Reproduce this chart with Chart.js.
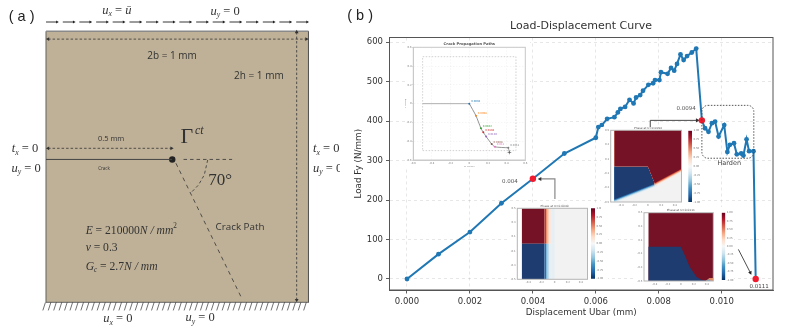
<!DOCTYPE html>
<html>
<head>
<meta charset="utf-8">
<title>Load-Displacement Curve</title>
<script src="https://cdn.jsdelivr.net/npm/chart.js@4"></script>
<style>
html, body { margin: 0; padding: 0; background: #fff; }
body { position: relative; width: 789px; height: 334px; overflow: hidden; }
canvas { position: absolute; }
</style>
</head>
<body>
<canvas id="schemeChart" width="340" height="334" style="left:0;top:0"></canvas>
<canvas id="loadChart" width="449" height="334" style="left:340px;top:0"></canvas>
<canvas id="pathChart" width="125" height="125" style="left:405px;top:42px"></canvas>
<canvas id="heatA" width="82" height="85" style="left:508px;top:203px"></canvas>
<canvas id="barA" width="18" height="85" style="left:590px;top:203px"></canvas>
<canvas id="heatB" width="83" height="84" style="left:601px;top:127px"></canvas>
<canvas id="barB" width="17" height="84" style="left:684px;top:127px"></canvas>
<canvas id="heatC" width="82" height="82" style="left:634px;top:207px"></canvas>
<canvas id="barC" width="18" height="82" style="left:716px;top:207px"></canvas>
<script>
// load-displacement curve
var dispUbar = [0, 0.001, 0.002, 0.003, 0.004, 0.005, 0.006, 0.00608, 0.00619, 0.00636, 0.00659, 0.0067, 0.00678,
    0.00693, 0.00707, 0.0072, 0.00728, 0.00741, 0.0075, 0.00767, 0.00782, 0.00788, 0.00802, 0.00807, 0.00828,
    0.00839, 0.00849, 0.00858, 0.00869, 0.00879, 0.0089, 0.00905, 0.00919, 0.00937, 0.00947, 0.00958, 0.00969,
    0.00979, 0.0099, 0.01008, 0.01018, 0.01026, 0.01039, 0.01048, 0.01062, 0.01069, 0.01079, 0.01087, 0.01101, 0.01108];
var loadFy = [0, 63, 119, 192, 254, 318, 358, 385, 390, 406, 410, 422, 431,
    436, 454, 445, 460, 466, 477, 492, 496, 504, 504, 524, 520,
    535, 528, 545, 569, 555, 565, 574, 584, 402, 382, 373, 395,
    399, 361, 390, 322, 340, 344, 316, 318, 313, 354, 324, 324, 0];
var markX = [0.004, 0.00937, 0.01108];
var markY = [254, 402, 0];

// crack path inset
var tipX = [0, 0.071, 0.125, 0.15, 0.18, 0.24, 0.275, 0.418];
var tipY = [0, -0.128, -0.263, -0.305, -0.35, -0.43, -0.46, -0.47];
var tipLabels = ['0.0094', '0.0098', '0.0102', '0.0104', '0.0106', '0.0108', '0.011', '0.0111'];
var tipColors = ['#1f77b4', '#ff7f0e', '#2ca02c', '#d62728', '#9467bd', '#8c564b', '#e377c2', '#7f7f7f'];

// phase field contours, normalised sample coordinates
var crackB = [[-0.5, -0.5], [0.1, -0.235], [0.5, -0.035]];
var contourC = [[-0.5, 0], [0, 0], [0.065, -0.129], [0.14, -0.3], [0.244, -0.44], [0.32, -0.485], [0.45, -0.51], [-0.5, -0.51]];
var bandX = [-0.5, -0.154, -0.13, -0.105, -0.08, -0.05];
var redRamp = ['#751226', '#c23b32', '#ee8f6b', '#fbd0b8', '#f8e8e0'];
var blueRamp = ['#1f3c70', '#2a6fb0', '#7cb8d8', '#c0dcec', '#e6eff4'];
var rampD = [0.05, 0.036, 0.024, 0.012, 0];
var rdBu = ['#053061', '#2166ac', '#4393c3', '#92c5de', '#d1e5f0', '#f7f7f7', '#fddbc7', '#f4a582', '#d6604d', '#b2182b', '#67001f'];

var inkColor = '#333';
var fieldColor = '#f2f2f3';
var sand = '#bfb197';

function zip(xs, ys) {
    return xs.map(function (x, i) { return { x: x, y: ys[i] }; });
}
function pairs(list) {
    return list.map(function (p) { return { x: p[0], y: p[1] }; });
}
function line(list, o) {
    o = o || {};
    return {
        data: pairs(list), showLine: true, fill: false, tension: 0, clip: false,
        borderColor: o.color || inkColor, borderWidth: o.w || 0.8, borderDash: o.dash || [],
        pointRadius: 0, pointStyle: false
    };
}
// polyline with a triangle head on the last point, and on the first if both is set
function arrow(list, o) {
    o = o || {};
    var d = line(list, o);
    var n = list.length;
    var kx = o.kx || 1, ky = o.ky || 1;
    var dirs = list.map(function () { return 0; });
    var a = list[n - 2], b = list[n - 1];
    var r = Math.atan2((b[0] - a[0]) * kx, (b[1] - a[1]) * ky) * 180 / Math.PI;
    dirs[n - 1] = r;
    if (o.both) {
        dirs[0] = r + 180;
    }
    var size = o.head || 2;
    d.pointStyle = 'triangle';
    d.pointRadius = list.map(function (p, i) { return (i == n - 1 || (o.both && i == 0)) ? size : 0; });
    d.pointRotation = dirs;
    d.pointBackgroundColor = o.headColor || o.color || inkColor;
    d.pointBorderWidth = 0;
    return d;
}

function drawRuns(ctx, e, px, py) {
    var fam = e.fam || 'Liberation Serif';
    var runs = typeof e.t == 'string' ? [[e.t]] : e.t;
    function runFont(r) {
        var shape = (e.it && r[2] != 'up' ? 'italic ' : '') + (e.weight ? e.weight + ' ' : '');
        return shape + (r[1] ? e.size * 0.62 : e.size) + 'px "' + fam + '"';
    }
    ctx.save();
    ctx.translate(px, py);
    if (e.rot) {
        ctx.rotate(e.rot * Math.PI / 180);
    }
    ctx.fillStyle = e.color || inkColor;
    ctx.textBaseline = 'middle';
    ctx.textAlign = 'left';
    var total = 0;
    runs.forEach(function (r) {
        ctx.font = runFont(r);
        total += ctx.measureText(r[0]).width;
    });
    var cx = e.align == 'left' ? 0 : -total / 2;
    runs.forEach(function (r) {
        ctx.font = runFont(r);
        var shift = r[1] == 'sub' ? e.size * 0.28 : (r[1] == 'sup' ? -e.size * 0.38 : 0);
        ctx.fillText(r[0], cx, shift);
        cx += ctx.measureText(r[0]).width;
    });
    ctx.restore();
}

// polygons, frame, rounded boxes and text, all placed through the chart scales
function marksPlugin(spec) {
    return {
        id: 'marks',
        beforeDraw: function (chart) {
            if (spec.bg) {
                chart.ctx.save();
                chart.ctx.fillStyle = spec.bg;
                chart.ctx.fillRect(0, 0, chart.width, chart.height);
                chart.ctx.restore();
            }
        },
        beforeDatasetsDraw: function (chart) {
            var ctx = chart.ctx, sx = chart.scales.x, sy = chart.scales.y;
            ctx.save();
            if (spec.clip) {
                var c = spec.clip;
                ctx.beginPath();
                ctx.rect(sx.getPixelForValue(c[0]), sy.getPixelForValue(c[3]),
                    sx.getPixelForValue(c[1]) - sx.getPixelForValue(c[0]), sy.getPixelForValue(c[2]) - sy.getPixelForValue(c[3]));
                ctx.clip();
            }
            (spec.polys || []).forEach(function (p) {
                ctx.beginPath();
                p.pts.forEach(function (q, i) {
                    var x = sx.getPixelForValue(q[0]), y = sy.getPixelForValue(q[1]);
                    if (i == 0) { ctx.moveTo(x, y); } else { ctx.lineTo(x, y); }
                });
                ctx.closePath();
                ctx.fillStyle = p.color;
                ctx.fill();
            });
            ctx.restore();
        },
        afterDatasetsDraw: function (chart) {
            var ctx = chart.ctx, sx = chart.scales.x, sy = chart.scales.y, a = chart.chartArea;
            if (spec.frame) {
                ctx.save();
                ctx.strokeStyle = spec.frame;
                ctx.lineWidth = spec.frameW || 1;
                ctx.strokeRect(a.left, a.top, a.right - a.left, a.bottom - a.top);
                ctx.restore();
            }
            (spec.boxes || []).forEach(function (b) {
                ctx.save();
                ctx.strokeStyle = b.color;
                ctx.lineWidth = b.w;
                ctx.setLineDash(b.dash);
                ctx.beginPath();
                ctx.roundRect(sx.getPixelForValue(b.x0), sy.getPixelForValue(b.y1),
                    sx.getPixelForValue(b.x1) - sx.getPixelForValue(b.x0), sy.getPixelForValue(b.y0) - sy.getPixelForValue(b.y1), b.r);
                ctx.stroke();
                ctx.restore();
            });
            (spec.texts || []).forEach(function (e) {
                drawRuns(ctx, e, sx.getPixelForValue(e.x), sy.getPixelForValue(e.y));
            });
        }
    };
}

function baseOptions(pad, xs, ys) {
    return {
        responsive: false, animation: false, events: [],
        layout: { padding: pad, autoPadding: false },
        plugins: { legend: { display: false }, tooltip: { enabled: false }, title: { display: false } },
        scales: { x: xs, y: ys }
    };
}

// ---------- panel (a), the specimen drawn in millimetres ----------
var topArrowX = [0, 0.064, 0.127, 0.191, 0.254, 0.318, 0.381, 0.445, 0.508, 0.572, 0.635, 0.699, 0.762, 0.826, 0.889, 0.953];
var schemeSets = [];
topArrowX.forEach(function (x) {
    schemeSets.push(arrow([[x, 1.032], [x + 0.042, 1.032]], { w: 0.9, head: 1.8, color: '#222' }));
});
schemeSets.push(arrow([[0.008, 0.969], [0.992, 0.969]], { both: true, dash: [2.5, 2], head: 2.2 }));
schemeSets.push(arrow([[0.955, 0.995], [0.955, 0.008]], { both: true, dash: [2.5, 2], head: 2.2 }));
schemeSets.push(arrow([[0.008, 0.567], [0.478, 0.567]], { both: true, dash: [2.5, 2], head: 2.2 }));
schemeSets.push(line([[0, 0.526], [0.48, 0.526]], { w: 1, color: '#444' }));
schemeSets.push(line([[0.524, 0.526], [0.709, 0.526]], { dash: [3.5, 3] }));
schemeSets.push(line([[0.495, 0.512], [0.743, 0.02]], { dash: [4, 4] }));
schemeSets.push(line([[0.616, 0.524], [0.603, 0.469], [0.581, 0.432], [0.552, 0.403]], { dash: [3, 2.5] }));
schemeSets.push({
    data: [{ x: 0.481, y: 0.526 }], showLine: false, pointRadius: 3.2, pointBackgroundColor: '#222', pointBorderWidth: 0, clip: false
});
var hatch = [];
for (var h = 0; h < 49; h++) {
    hatch.push({ x: -0.012 + h * 0.0207, y: -0.03 }, { x: -0.002 + h * 0.0207, y: 0 }, { x: NaN, y: NaN });
}
schemeSets.push({ data: hatch, showLine: true, spanGaps: false, pointRadius: 0, pointStyle: false, borderColor: '#333', borderWidth: 0.7, clip: false });
schemeSets.push(line([[0, 0.998], [1, 0.998]], { w: 1.5, color: '#8a8a8a' }));
schemeSets.push(line([[1, 0.998], [1, 0], [0, 0], [0, 0.998]], { w: 0.9, color: '#555' }));

new Chart('schemeChart', {
    type: 'scatter',
    data: { datasets: schemeSets },
    options: baseOptions(0,
        { type: 'linear', display: false, min: -0.1752, max: 1.12 },
        { type: 'linear', display: false, min: -0.1167, max: 1.113 }),
    plugins: [marksPlugin({
        bg: '#fff',
        polys: [{ color: sand, pts: [[0, 0], [1, 0], [1, 0.998], [0, 0.998]] }],
        texts: [
            { x: -0.093, y: 1.05, t: '( a )', size: 14.5, fam: 'Liberation Sans', color: '#222' },
            { x: 0.27, y: 1.073, t: [['u'], ['x', 'sub'], [' = ', '', 'up'], ['ū']], size: 12.5, it: true },
            { x: 0.682, y: 1.069, t: [['u'], ['y', 'sub'], [' = 0', '', 'up']], size: 12.5, it: true },
            { x: 0.48, y: 0.908, t: '2b = 1 mm', size: 10, fam: 'Open Sans' },
            { x: 0.811, y: 0.833, t: '2h = 1 mm', size: 10, fam: 'Open Sans' },
            { x: 0.248, y: 0.6, t: '0.5 mm', size: 7.5, fam: 'Open Sans' },
            { x: 0.221, y: 0.491, t: 'Crack', size: 4.5, fam: 'Open Sans' },
            { x: 0.537, y: 0.609, t: 'Γ', size: 22 },
            { x: 0.584, y: 0.632, t: 'ct', size: 12, it: true },
            { x: 0.663, y: 0.449, t: '70°', size: 17 },
            { x: 0.739, y: 0.276, t: 'Crack Path', size: 9.8, fam: 'Open Sans' },
            { x: 0.151, y: 0.2625, t: [['E'], [' = 210000', '', 'up'], ['N / mm'], ['2', 'sup', 'up']], size: 11.6, it: true, align: 'left' },
            { x: 0.151, y: 0.2, t: [['ν'], [' = 0.3', '', 'up']], size: 11.6, it: true, align: 'left' },
            { x: 0.151, y: 0.131, t: [['G'], ['c', 'sub'], [' = 2.7', '', 'up'], ['N / mm']], size: 11.6, it: true, align: 'left' },
            { x: -0.08, y: 0.564, t: [['t'], ['x', 'sub'], [' = 0', '', 'up']], size: 12.5, it: true },
            { x: -0.076, y: 0.491, t: [['u'], ['y', 'sub'], [' = 0', '', 'up']], size: 12.5, it: true },
            { x: 1.017, y: 0.564, t: [['t'], ['x', 'sub'], [' = 0', '', 'up']], size: 12.5, it: true, align: 'left' },
            { x: 1.017, y: 0.491, t: [['u'], ['y', 'sub'], [' = 0', '', 'up']], size: 12.5, it: true, align: 'left' },
            { x: 0.274, y: -0.0615, t: [['u'], ['x', 'sub'], [' = 0', '', 'up']], size: 12.5, it: true },
            { x: 0.587, y: -0.058, t: [['u'], ['y', 'sub'], [' = 0', '', 'up']], size: 12.5, it: true }
        ]
    })]
});

// ---------- panel (b), main curve ----------
var kx = 31460, ky = 0.3945;
var tickFont = { family: 'DejaVu Sans', size: 8.5 };
new Chart('loadChart', {
    type: 'scatter',
    data: {
        datasets: [
            { data: zip(markX, markY), showLine: false, pointRadius: 3.2, pointBackgroundColor: '#ee1c2e', pointBorderWidth: 0, clip: false },
            { data: zip(dispUbar, loadFy), showLine: true, tension: 0, borderColor: '#1f77b4', borderWidth: 2, pointRadius: 2.4, pointBackgroundColor: '#1f77b4', pointBorderWidth: 0, clip: false },
            arrow([[0.0047, 203], [0.0047, 253.5], [0.00423, 253.5]], { kx: kx, ky: ky, color: '#888', headColor: '#333', w: 1.2, head: 2.4 }),
            arrow([[0.00773, 380], [0.00773, 402], [0.00922, 402]], { kx: kx, ky: ky, color: '#333', w: 0.9, head: 2.4 }),
            arrow([[0.01053, 75], [0.01091, 16]], { kx: kx, ky: ky, color: '#222', w: 0.8, head: 2.2 })
        ]
    },
    options: baseOptions({ left: 0, right: 16, top: 37.5, bottom: 0 },
        {
            type: 'linear', min: -0.000556, max: 0.01163,
            afterFit: function (a) { a.height = 44; },
            grid: { color: 'rgba(0,0,0,0.12)', tickColor: '#333', tickLength: 3.5, lineWidth: 0.8 },
            border: { dash: [3, 3], color: '#555' },
            ticks: { stepSize: 0.002, includeBounds: false, color: '#333', font: tickFont, padding: 3, maxRotation: 0, callback: function (v) { return v.toFixed(3); } },
            title: { display: true, text: 'Displacement Ubar (mm)', color: '#333', font: { family: 'DejaVu Sans', size: 8.8 }, padding: { top: 0, bottom: 15.9 } }
        },
        {
            type: 'linear', min: -27.9, max: 612,
            afterFit: function (a) { a.width = 49.5; },
            grid: { color: 'rgba(0,0,0,0.12)', tickColor: '#333', tickLength: 3.5, lineWidth: 0.8 },
            border: { dash: [3, 3], color: '#555' },
            ticks: { stepSize: 100, includeBounds: false, color: '#333', font: tickFont, padding: 3 },
            title: { display: true, text: 'Load Fy (N/mm)', color: '#333', font: { family: 'DejaVu Sans', size: 8.8 }, padding: { top: 13.6, bottom: 13.6 } }
        }),
    plugins: [marksPlugin({
        frame: '#555',
        boxes: [{ x0: 0.00937, x1: 0.01102, y0: 306, y1: 440, r: 6, color: '#444', w: 0.9, dash: [1.5, 1.5] }],
        texts: [
            { x: -0.00149, y: 667, t: '( b )', size: 14.5, fam: 'Liberation Sans', color: '#222' },
            { x: 0.00553, y: 640, t: 'Load-Displacement Curve', size: 11, fam: 'DejaVu Sans' },
            { x: 0.00327, y: 246.6, t: '0.004', size: 5.5, fam: 'DejaVu Sans', color: '#555' },
            { x: 0.00887, y: 432, t: '0.0094', size: 5.5, fam: 'DejaVu Sans', color: '#555' },
            { x: 0.01024, y: 293, t: 'Harden', size: 6.5, fam: 'DejaVu Sans', color: '#444' },
            { x: 0.01119, y: -18, t: '0.0111', size: 5.5, fam: 'DejaVu Sans', color: '#444' }
        ]
    })]
});

// ---------- small insets ----------
var tinyColor = '#777';
function tinyScale(min, max, step, size, extra) {
    var s = {
        type: 'linear', min: min, max: max,
        grid: { display: false, tickColor: '#999', tickLength: 1 },
        border: { display: false },
        ticks: { stepSize: step, includeBounds: false, autoSkip: false, maxRotation: 0, color: tinyColor, font: { family: 'DejaVu Sans', size: 2.6 }, padding: 0.6 }
    };
    if (extra) {
        s.grid = extra.grid;
        s.border = extra.border;
    }
    s.afterFit = function (a) {
        if (a.isHorizontal()) { a.height = size; } else { a.width = size; }
    };
    return s;
}

var pathSets = [
    { data: zip(tipX, tipY), showLine: false, pointRadius: 1, borderWidth: 0, pointBorderWidth: 0, pointBackgroundColor: tipColors, clip: false },
    { data: [{ x: 0.43, y: -0.52 }], showLine: false, pointStyle: 'cross', pointRadius: 1.8, pointBorderColor: '#444', pointBorderWidth: 0.6, clip: false },
    line([[0.418, -0.47], [0.43, -0.52]], { w: 0.5, color: '#555' }),
    { data: zip(tipX, tipY), showLine: true, tension: 0.2, pointRadius: 0, pointStyle: false, borderColor: '#666', borderWidth: 0.7, clip: false },
    line([[-0.5, 0], [0, 0]], { w: 0.9, color: '#a8a8a8' }),
    line([[-0.5, -0.5], [0.5, -0.5], [0.5, 0.5], [-0.5, 0.5], [-0.5, -0.5]], { w: 0.9, color: '#ccc', dash: [1.5, 1.5] })
];
var pathGrid = {
    grid: { color: 'rgba(0,0,0,0.07)', lineWidth: 0.5, tickColor: '#999', tickLength: 1 },
    border: { dash: [1.5, 1.5], display: true, color: '#ccc' }
};
var pathTexts = [
    { x: 0, y: 0.64, t: 'Crack Propagation Paths', size: 3.7, fam: 'DejaVu Sans', weight: 'bold', color: '#555' },
    { x: 0, y: -0.68, t: 'X (mm)', size: 2.8, fam: 'DejaVu Sans', color: '#666' },
    { x: -0.69, y: 0, t: 'Y (mm)', size: 2.8, fam: 'DejaVu Sans', color: '#666', rot: -90 }
];
tipLabels.forEach(function (label, i) {
    pathTexts.push({ x: tipX[i] + 0.02, y: tipY[i] + 0.022, t: label, size: 2.6, fam: 'DejaVu Sans', color: tipColors[i], align: 'left' });
});
new Chart('pathChart', {
    type: 'scatter',
    data: { datasets: pathSets },
    options: baseOptions({ left: 0, right: 4.7, top: 5.3, bottom: 0 },
        tinyScale(-0.6, 0.6, 0.2, 7, pathGrid),
        tinyScale(-0.6, 0.6, 0.2, 8.3, pathGrid)),
    plugins: [marksPlugin({ bg: '#fff', frame: '#c8c8c8', frameW: 1, texts: pathTexts })]
});

function heat(id, pad, xMin, xAxis, yAxis, polys, title) {
    new Chart(id, {
        type: 'scatter',
        data: { datasets: [{ data: [] }] },
        options: baseOptions(pad, tinyScale(xMin, 0.5, 0.2, xAxis), tinyScale(-0.5, 0.5, 0.2, yAxis)),
        plugins: [marksPlugin({
            bg: '#fff', frame: '#b5b5b5', frameW: 1, polys: polys, clip: [-0.5, 0.5, -0.5, 0.5],
            texts: [{ x: 0, y: 0.535, t: title, size: 2.9, fam: 'DejaVu Sans', color: '#555' }]
        })]
    });
}

function colorbar(id, pad, axisW) {
    new Chart(id, {
        type: 'bar',
        data: {
            labels: ['phase'],
            datasets: [{
                data: [[-1, 1]], categoryPercentage: 1, barPercentage: 1,
                backgroundColor: function (c) {
                    var chart = c.chart, a = chart.chartArea;
                    if (!a) { return rdBu[5]; }
                    var g = chart.ctx.createLinearGradient(0, chart.scales.y.getPixelForValue(-1), 0, chart.scales.y.getPixelForValue(1));
                    rdBu.forEach(function (col, i) { g.addColorStop(i / (rdBu.length - 1), col); });
                    return g;
                }
            }]
        },
        options: baseOptions(pad,
            { type: 'category', display: false },
            {
                type: 'linear', position: 'right', min: -1, max: 1,
                afterFit: function (a) { a.width = axisW; },
                grid: { display: false, tickColor: '#999', tickLength: 1 }, border: { display: false },
                ticks: { stepSize: 0.25, autoSkip: false, color: tinyColor, font: { family: 'DejaVu Sans', size: 2.6 }, padding: 0.5, callback: function (v) { return v.toFixed(2); } }
            }),
        plugins: [marksPlugin({ bg: '#fff' })]
    });
}

// uniform opening at 0.004
var polysA = [{ color: fieldColor, pts: [[-0.5, -0.5], [0.5, -0.5], [0.5, 0.5], [-0.5, 0.5]] }];
bandX.forEach(function (x, i) {
    var next = i + 1 < bandX.length ? bandX[i + 1] : 0;
    polysA.push({ color: redRamp[i], pts: [[x, 0], [next, 0], [next, 0.5], [x, 0.5]] });
    polysA.push({ color: blueRamp[i], pts: [[x, -0.5], [next, -0.5], [next, 0], [x, 0]] });
});
heat('heatA', { left: 0, right: 2.5, top: 5.3, bottom: 0 }, -0.567, 8.7, 9.3, polysA, 'Phase at U=0.0040');
colorbar('barA', { left: 1, right: 0, top: 5.3, bottom: 9.3 }, 13);

// kinked crack at 0.0094
var polysB = [{ color: fieldColor, pts: [[-0.5, -0.5], [0.5, -0.5], [0.5, 0.5], [-0.5, 0.5]] }];
rampD.forEach(function (d, i) {
    var k = rampD.length - 1 - i;
    polysB.push({ color: blueRamp[k], pts: [[-0.5, 0], [0, 0], [crackB[1][0], crackB[1][1]], [crackB[1][0] + 0.03, crackB[1][1] - d], [crackB[0][0] - 0.1, crackB[0][1] - d]] });
});
rampD.forEach(function (d, i) {
    var k = rampD.length - 1 - i;
    polysB.push({ color: redRamp[k], pts: [[-0.5, 0.5], [0.5, 0.5], [crackB[2][0], crackB[2][1] - d], [crackB[1][0], crackB[1][1] - d], [crackB[1][0], crackB[1][1]], [0, 0], [-0.5, 0]] });
});
heat('heatB', { left: 0, right: 2.5, top: 3.3, bottom: 0 }, -0.554, 9, 9.7, polysB, 'Phase at U=0.0094');
colorbar('barB', { left: 4.3, right: 0, top: 3.7, bottom: 9 }, 9);

// broken through at 0.0111
var polysC = [
    { color: '#751226', pts: [[-0.5, -0.5], [0.5, -0.5], [0.5, 0.5], [-0.5, 0.5]] },
    { color: '#1f3c70', pts: contourC },
    { color: '#e88a60', pts: [[0.38, -0.5], [0.5, -0.5], [0.5, -0.455], [0.44, -0.455]] },
    { color: '#5b9bc8', pts: [[0.38, -0.5], [0.46, -0.5], [0.44, -0.475]] }
];
heat('heatC', { left: 0, right: 2.7, top: 5.7, bottom: 0 }, -0.566, 8, 10, polysC, 'Phase at U=0.0111');
colorbar('barC', { left: 5.7, right: 0, top: 5.7, bottom: 9 }, 8.7);
</script>
</body>
</html>
